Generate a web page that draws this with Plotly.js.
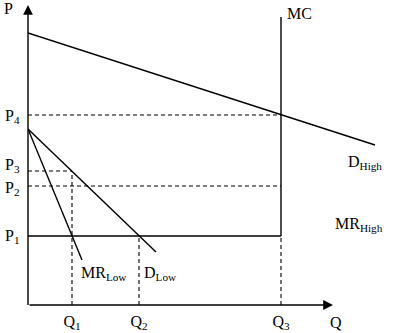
<!DOCTYPE html>
<html><head><meta charset="utf-8">
<script src="https://cdn.plot.ly/plotly-3.0.1.min.js"></script>
<style>html,body{margin:0;padding:0;background:#fff}</style>
</head><body>
<div id="chart" style="width:393px;height:333px"></div>
<script>
// Quantities and prices (chart units)
const qLabels = ["Q<sub>1</sub>", "Q<sub>2</sub>", "Q<sub>3</sub>"];
const qValues = [44, 111, 253];
const pLabels = ["P<sub>1</sub>", "P<sub>2</sub>", "P<sub>3</sub>", "P<sub>4</sub>"];
const pValues = [69, 119, 134, 190];

// Curves
const dHighX = [0, 347];
const dHighY = [272, 160];
const dLowX = [0, 128];
const dLowY = [176, 53];
const mrLowX = [0, 54];
const mrLowY = [176, 45];
const mcX = [253, 253];
const mcY = [69, 288];
const p1LineX = [0, 253];
const p1LineY = [69, 69];

// Axis extents
const xAxisEnd = 305;
const yAxisEnd = 300;

const black = "#000";
const solid = {color: black, width: 1.4};
const dashed = {color: black, width: 1.1, dash: "4px,3px"};

const [Q1, Q2, Q3] = qValues;
const [P1, P2, P3, P4] = pValues;

const traces = [
  {x: dHighX, y: dHighY, line: solid},
  {x: dLowX, y: dLowY, line: solid},
  {x: mrLowX, y: mrLowY, line: solid},
  {x: mcX, y: mcY, line: solid},
  {x: p1LineX, y: p1LineY, line: solid},
  // dashed guides
  {x: [0, Q3], y: [P4, P4], line: dashed},
  {x: [0, Q3], y: [P2, P2], line: dashed},
  {x: [0, Q1], y: [P3, P3], line: dashed},
  {x: [Q1, Q1], y: [0, P3], line: dashed},
  {x: [Q2, Q2], y: [0, P1], line: dashed},
  {x: [Q3, Q3], y: [0, P1], line: dashed}
].map(t => Object.assign({type: "scatter", mode: "lines", hoverinfo: "skip", showlegend: false}, t));

const font = {family: "Liberation Serif, Times New Roman, serif", size: 16, color: black};

// vertical label nudges (px) for the price labels
const pShift = [0, -2, 6, -1];

const annotations = [
  // axes arrows
  {x: 0, y: yAxisEnd, ax: 0, ay: 0, axref: "x", ayref: "y",
   showarrow: true, arrowhead: 2, arrowsize: 1.4, arrowwidth: 1.4, arrowcolor: black, text: ""},
  {x: xAxisEnd, y: 0, ax: 0, ay: 0, axref: "x", ayref: "y",
   showarrow: true, arrowhead: 2, arrowsize: 1.4, arrowwidth: 1.4, arrowcolor: black, text: ""},
  // labels
  {xref: "paper", yref: "paper", x: -0.0685, y: 0.99, text: "P"},
  {xref: "paper", yref: "paper", x: 0.826, y: -0.057, text: "Q"},
  {x: 258, y: 292, text: "MC"},
  {x: 319, y: 143, text: "D<sub>High</sub>"},
  {x: 306, y: 81, text: "MR<sub>High</sub>"},
  {x: 52, y: 32, text: "MR<sub>Low</sub>"},
  {x: 115, y: 32, text: "D<sub>Low</sub>"}
].concat(pLabels.map((t, i) => ({xref: "paper", x: -0.019, y: pValues[i], yshift: pShift[i],
                                  text: t, xanchor: "right"})))
 .map(a => Object.assign({xref: "x", yref: "y", showarrow: false, font: font, borderpad: 0,
                          xanchor: "left", yanchor: "middle"}, a));

const layout = {
  width: 393, height: 333,
  margin: {l: 28, r: 0, t: 5, b: 28, pad: 0},
  paper_bgcolor: "#fff", plot_bgcolor: "#fff",
  font: font,
  showlegend: false,
  xaxis: {range: [0, 365], showgrid: false, zeroline: false, showline: false,
          tickmode: "array", tickvals: qValues, ticktext: qLabels, ticks: "",
          ticklabelstandoff: 5, tickfont: font, fixedrange: true},
  yaxis: {range: [0, 300], showgrid: false, zeroline: false, showline: false,
          showticklabels: false, ticks: "", fixedrange: true},
  annotations: annotations
};

Plotly.newPlot("chart", traces, layout, {displayModeBar: false, staticPlot: true});
</script>
</body></html>
